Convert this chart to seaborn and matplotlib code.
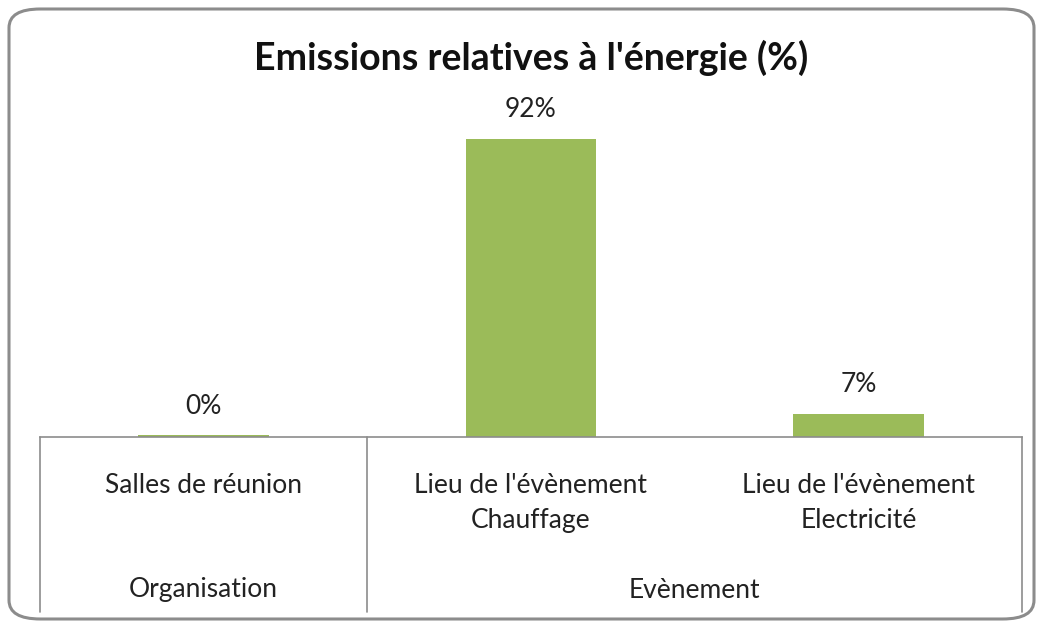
import matplotlib
matplotlib.use("Agg")
import matplotlib.pyplot as plt
import seaborn as sns
import pandas as pd
from matplotlib.patches import FancyBboxPatch
from matplotlib.lines import Line2D
from matplotlib.transforms import blended_transform_factory

categories = ["Salles de réunion", "Lieu de l'évènement\nChauffage", "Lieu de l'évènement\nElectricité"]
values = [0.5, 92.4, 7.1]
groups = ["Organisation", "Evènement"]
group_sizes = [1, 2]
title = "Emissions relatives à l'énergie (%)"

sns.set_theme(style="white")
plt.rcParams['font.family'] = ['Lato', 'DejaVu Sans']

W, H = 1043, 624
fig = plt.figure(figsize=(W / 100, H / 100), dpi=100)
fig.patch.set_facecolor("white")

# rounded border
border = FancyBboxPatch((9 / W, 5 / H), (W - 18) / W, (H - 14) / H,
                        boxstyle="round,pad=0,rounding_size=0.03",
                        transform=fig.transFigure, fill=False,
                        edgecolor="#8c8c8c", linewidth=2.2)
fig.patches.append(border)

ax_left, ax_right = 40 / W, 1022 / W
ax_bottom, ax_top = 1 - 437 / H, 1 - 95 / H
ax = fig.add_axes([ax_left, ax_bottom, ax_right - ax_left, ax_top - ax_bottom])

df = pd.DataFrame({"cat": categories, "val": values})
sns.barplot(data=df, x="cat", y="val", color="#9BBB59", width=0.4,
            saturation=1, ax=ax, edgecolor="none")
ax.set_ylim(0, 106)
ax.set_xlim(-0.5, len(categories) - 0.5)
ax.set_xlabel("")
ax.set_ylabel("")
ax.set_yticks([])
for s in ["top", "left", "right"]:
    ax.spines[s].set_visible(False)
ax.spines["bottom"].set_color("#8c8c8c")
ax.spines["bottom"].set_linewidth(1.2)
ax.tick_params(axis="x", length=0, pad=26, labelsize=19, labelcolor="#222222")
for lbl in ax.get_xticklabels():
    lbl.set_linespacing(1.47)

for bar, v in zip(ax.patches, values):
    ax.annotate(f"{v:.0f}%", (bar.get_x() + bar.get_width() / 2, bar.get_height()),
                xytext=(0, 21), textcoords="offset points", ha="center", va="center",
                fontsize=19, color="#222222")

# group separators and labels
trans = blended_transform_factory(ax.transData, fig.transFigure)
y_top = ax_bottom
y_bot = 1 - 612 / H
bounds = [-0.5]
for g in group_sizes:
    bounds.append(bounds[-1] + g)
for b in bounds:
    fig.add_artist(Line2D([b, b], [y_top, y_bot], transform=trans,
                          color="#8c8c8c", linewidth=1.2))
for i, g in enumerate(groups):
    cx = (bounds[i] + bounds[i + 1]) / 2
    fig.text(cx, 1 - 590 / H, g, transform=trans, ha="center", va="center",
             fontsize=19, color="#222222")

fig.text(0.5 * (ax_left + ax_right), 1 - 58 / H, title, ha="center", va="center",
         fontsize=27, fontweight="bold", color="#111111")

fig.savefig("out.png", dpi=100, facecolor="white")
